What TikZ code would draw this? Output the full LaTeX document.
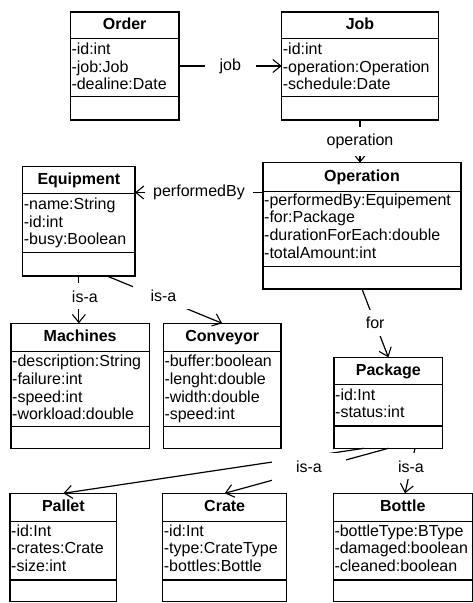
\documentclass[tikz,border=0pt]{standalone}
\usepackage{fontspec}
\setmainfont{Liberation Sans}
\usetikzlibrary{arrows.meta,fit}

\tikzset{
  classbox/.style={draw, line width=1.3pt, inner sep=0pt, outer sep=0pt},
  divider/.style={line width=1.3pt},
  classtitle/.style={anchor=base, inner sep=0pt, font=\fontsize{16}{18}\selectfont\bfseries},
  attr/.style={anchor=base west, inner sep=0pt, font=\fontsize{16}{18}\selectfont},
  assoc/.style={line width=1.2pt, -{Straight Barb[length=8pt,width=13pt,line width=1.1pt]}},
  lbl/.style={fill=white, inner xsep=8pt, inner ysep=7pt, font=\fontsize{16}{18}\selectfont},
}

% class box: name, x1, y1, x2, y2, first divider, second divider, title
\newcommand\umlclass[8]{%
  \node[classbox, fit={(#2,#3) (#4,#5)}] (#1) {};
  \draw[divider] (#1.west |- 0,#6) -- (#1.east |- 0,#6);
  \draw[divider] (#1.west |- 0,#7) -- (#1.east |- 0,#7);
  \node[classtitle] (#1-title) at ({(#2+#4)/2},{(#3+#6)/2+4.2}) {#8};
}
% attribute rows: name, left x, first baseline, list of rows
\newcommand\umlattrs[4]{%
  \foreach \row [count=\i from 0] in {#4}
    \node[attr] (#1-attr\i) at ({#2+1},{#3+17.7*\i}) {\row};
}

\begin{document}
\begin{tikzpicture}[x=1pt, y=-1pt]
  \path[fill=white, use as bounding box] (0,0) rectangle (473,603);

  % classes
  \umlclass{order}{70.3}{12}{179}{120}{38.3}{96.7}{Order}
  \umlattrs{order}{70.3}{54.3}{-id:int, -job:Job, -dealine:Date}

  \umlclass{job}{281.7}{12}{438.3}{120}{38.3}{96.7}{Job}
  \umlattrs{job}{281.7}{54.3}{-id:int, -operation:Operation, -schedule:Date}

  \umlclass{equipment}{22.7}{166.7}{135}{276}{193.3}{252.7}{Equipment}
  \umlattrs{equipment}{22.7}{209.3}{-name:String, -id:int, -busy:Boolean}

  \umlclass{operation}{263}{162.7}{461}{289}{191.2}{266.7}{Operation}
  \umlattrs{operation}{263}{205}{-performedBy:Equipement, -for:Package, -durationForEach:double, -totalAmount:int}

  \umlclass{machines}{11}{323.3}{149.3}{448.3}{351.7}{426.7}{Machines}
  \umlattrs{machines}{11}{366.6}{-description:String, -failure:int, -speed:int, -workload:double}

  \umlclass{conveyor}{163.3}{323.3}{281}{448.3}{351.7}{426.7}{Conveyor}
  \umlattrs{conveyor}{163.3}{366.6}{-buffer:boolean, -lenght:double, -width:double, -speed:int}

  \umlclass{package}{334}{357.3}{442.7}{448.3}{384.3}{426}{Package}
  \umlattrs{package}{334}{400}{-id:Int, -status:int}

  \umlclass{pallet}{10}{493.3}{116.7}{601.5}{521.7}{580}{Pallet}
  \umlattrs{pallet}{10}{536}{-id:Int, -crates:Crate, -size:int}

  \umlclass{crate}{162.7}{493.3}{286.7}{601.5}{521.7}{580}{Crate}
  \umlattrs{crate}{162.7}{536}{-id:Int, -type:CrateType, -bottles:Bottle}

  \umlclass{bottle}{333.3}{493.3}{472.2}{601.5}{521.7}{580}{Bottle}
  \umlattrs{bottle}{333.3}{536}{-bottleType:BType, -damaged:boolean, -cleaned:boolean}

  % associations
  \draw[assoc] (order.east |- 0,66) -- node[lbl, inner xsep=15pt] (lblJob) {job} (job.west |- 0,66);
  \draw[assoc] (job.south) -- node[lbl] (lblOperation) {operation} (job.south |- operation.north);
  \draw[assoc] (operation.west |- 0,192.5) -- node[lbl] (lblPerformedBy) {performedBy} (equipment.east |- 0,192.5);
  \draw[assoc] (operation.south) -- node[lbl] (lblFor) {for} (package.north);

  % generalisations
  \draw[assoc] (equipment.south) -- node[lbl, pos=.43, xshift=6pt] (lblIsaMachines) {is-a} (equipment.south |- machines.north);
  \draw[assoc] (equipment.south -| 107,0) -- node[lbl, pos=.49, yshift=3pt, inner xsep=18pt] (lblIsaConveyor) {is-a} (conveyor.north);
  \draw[assoc] (package.south -| 364,0) -- (pallet.north);
  \draw[assoc] (package.south) -- (crate.north);
  \node[lbl, minimum width=74pt, minimum height=28pt] (lblIsaPackage) at (309,467) {is-a};
  \draw[assoc] (package.south -| 415,0) -- node[lbl, pos=.4] (lblIsaBottle) {is-a} (bottle.north -| 405,0);
\end{tikzpicture}
\end{document}
